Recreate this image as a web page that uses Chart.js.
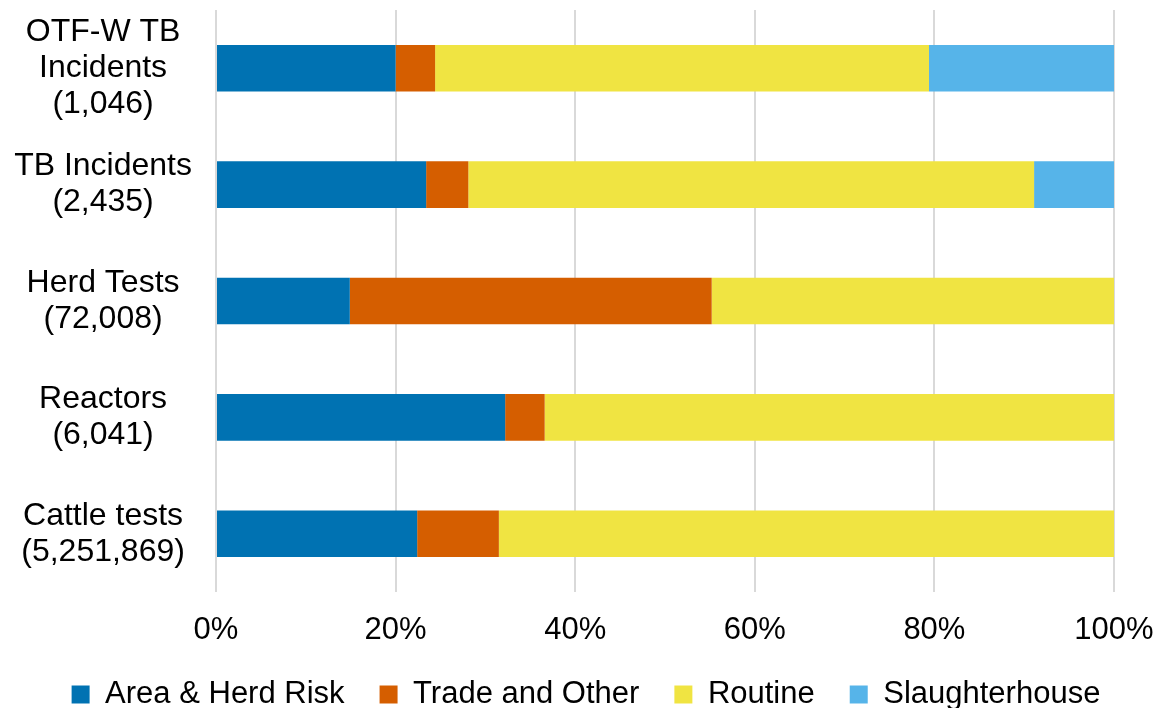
<!DOCTYPE html>
<html>
<head>
<meta charset="utf-8">
<script src="https://cdn.jsdelivr.net/npm/chart.js@4"></script>
<style>
  html, body { margin: 0; padding: 0; background: #fff; }
  #wrap { width: 1157px; height: 708px; }
</style>
</head>
<body>
<div id="wrap"><canvas id="tbChart"></canvas></div>
<script>
const categories = [
  ['OTF-W TB', 'Incidents', '(1,046)'],
  ['TB Incidents', '(2,435)'],
  ['Herd Tests', '(72,008)'],
  ['Reactors', '(6,041)'],
  ['Cattle tests', '(5,251,869)']
];
const areaHerdRisk = [20.0, 23.4, 14.9, 32.2, 22.4];
const tradeOther = [4.4, 4.7, 40.3, 4.4, 9.1];
const routine = [55.0, 63.0, 44.8, 63.4, 68.5];
const slaughterhouse = [20.6, 8.9, 0, 0, 0];

const FONT = 'Liberation Sans, Arial, sans-serif';
Chart.defaults.font.family = FONT;
Chart.defaults.color = '#000';

// nudge the legend right so it sits centred like the original
const shiftLegend = {
  id: 'shiftLegend',
  afterLayout(chart) {
    chart.legend.left += 29;
    chart.legend.right += 29;
  }
};

const ctx = document.getElementById('tbChart').getContext('2d');
const chart = new Chart(ctx, {
  type: 'bar',
  data: {
    labels: categories,
    datasets: [
      { label: 'Area & Herd Risk', data: areaHerdRisk, backgroundColor: '#0072B2' },
      { label: 'Trade and Other', data: tradeOther, backgroundColor: '#D55E00' },
      { label: 'Routine', data: routine, backgroundColor: '#F0E442' },
      { label: 'Slaughterhouse', data: slaughterhouse, backgroundColor: '#56B4E9' }
    ]
  },
  options: {
    indexAxis: 'y',
    responsive: true,
    maintainAspectRatio: false,
    animation: false,
    layout: { padding: { top: 10, right: 43, left: 0, bottom: -12 } },
    datasets: { bar: { barPercentage: 0.4, categoryPercentage: 1.0 } },
    scales: {
      x: {
        stacked: true,
        min: 0,
        max: 100,
        ticks: {
          stepSize: 20,
          callback: v => v + '%',
          font: { size: 31 },
          padding: 20
        },
        grid: { color: '#d9d9d9', lineWidth: 2, drawTicks: false },
        border: { display: false },
        afterFit: axis => {
          axis.height = 52;
          axis.paddingLeft = 0;
          axis.paddingRight = 0;
        }
      },
      y: {
        stacked: true,
        ticks: {
          autoSkip: false,
          font: { size: 32, lineHeight: 1.125 },
          crossAlign: 'center',
          padding: 16
        },
        grid: { display: false },
        border: { display: false },
        afterFit: axis => {
          axis.width = 216;
          axis.paddingTop = 0;
          axis.paddingBottom = 0;
        }
      }
    },
    plugins: {
      legend: {
        position: 'bottom',
        labels: {
          font: { size: 31 },
          boxWidth: 18,
          boxHeight: 18,
          padding: 35
        }
      },
      tooltip: { enabled: false }
    }
  },
  plugins: [shiftLegend]
});
</script>
</body>
</html>
